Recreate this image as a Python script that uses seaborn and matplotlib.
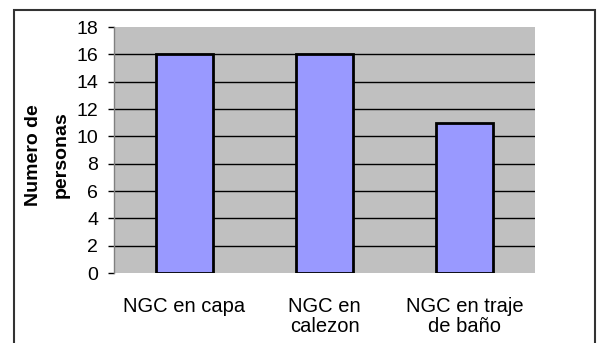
import matplotlib
matplotlib.use("Agg")
import matplotlib.pyplot as plt
import seaborn as sns
import pandas as pd
from matplotlib.patches import Rectangle

# Data
categories = ["NGC en capa", "NGC en\ncalezon", "NGC en traje\nde baño"]
personas = [16, 16, 11]
y_ticks = list(range(0, 19, 2))

df = pd.DataFrame({"categoria": categories, "personas": personas})

sns.set_style("white")
plt.rcParams["font.family"] = ["Liberation Sans", "DejaVu Sans"]
plt.rcParams.update({"text.color": "black", "axes.labelcolor": "black",
                     "xtick.color": "black", "ytick.color": "black"})

fig = plt.figure(figsize=(6.02, 3.43), dpi=100)
ax = fig.add_axes([114 / 602, 1 - 273 / 343, (535 - 114) / 602, (273 - 27) / 343])

ax.set_facecolor("#C0C0C0")
ax.set_axisbelow(True)
ax.yaxis.grid(True, color="black", linewidth=1.0)
ax.xaxis.grid(False)

sns.barplot(data=df, x="categoria", y="personas", color="#9999FF",
            saturation=1, width=0.406, edgecolor="black", linewidth=2, ax=ax)

ax.set_ylim(0, 18)
ax.set_yticks(y_ticks)
ax.set_xlim(-0.5, 2.5)
# no gridline on the plot edges (0 and 18)
gl = ax.yaxis.get_gridlines()
gl[0].set_visible(False)
gl[-1].set_visible(False)

ax.tick_params(axis="y", labelsize=14, length=4.5, width=1, color="black", pad=7, left=True)
ax.tick_params(axis="x", labelsize=14.5, length=0, pad=17)
for lab in ax.get_xticklabels():
    lab.set_linespacing(1.1)

for side in ["top", "right", "bottom"]:
    ax.spines[side].set_visible(False)
ax.spines["left"].set_color("#808080")
ax.spines["left"].set_linewidth(1)

ax.set_xlabel("")
ax.set_ylabel("Numero de\npersonas", fontsize=14, fontweight="bold",
              linespacing=1.85, va="center", ha="center")
ax.yaxis.set_label_coords((47.5 - 114) / 421, (273 - 155) / 246)

# outer chart frame
fig.patches.append(Rectangle((13.5 / 602, -0.05), (595 - 13.5) / 602, 1.05 - 9.5 / 343,
                             transform=fig.transFigure, fill=False,
                             edgecolor="#333333", linewidth=1.5))

fig.savefig("out.png", dpi=100)
